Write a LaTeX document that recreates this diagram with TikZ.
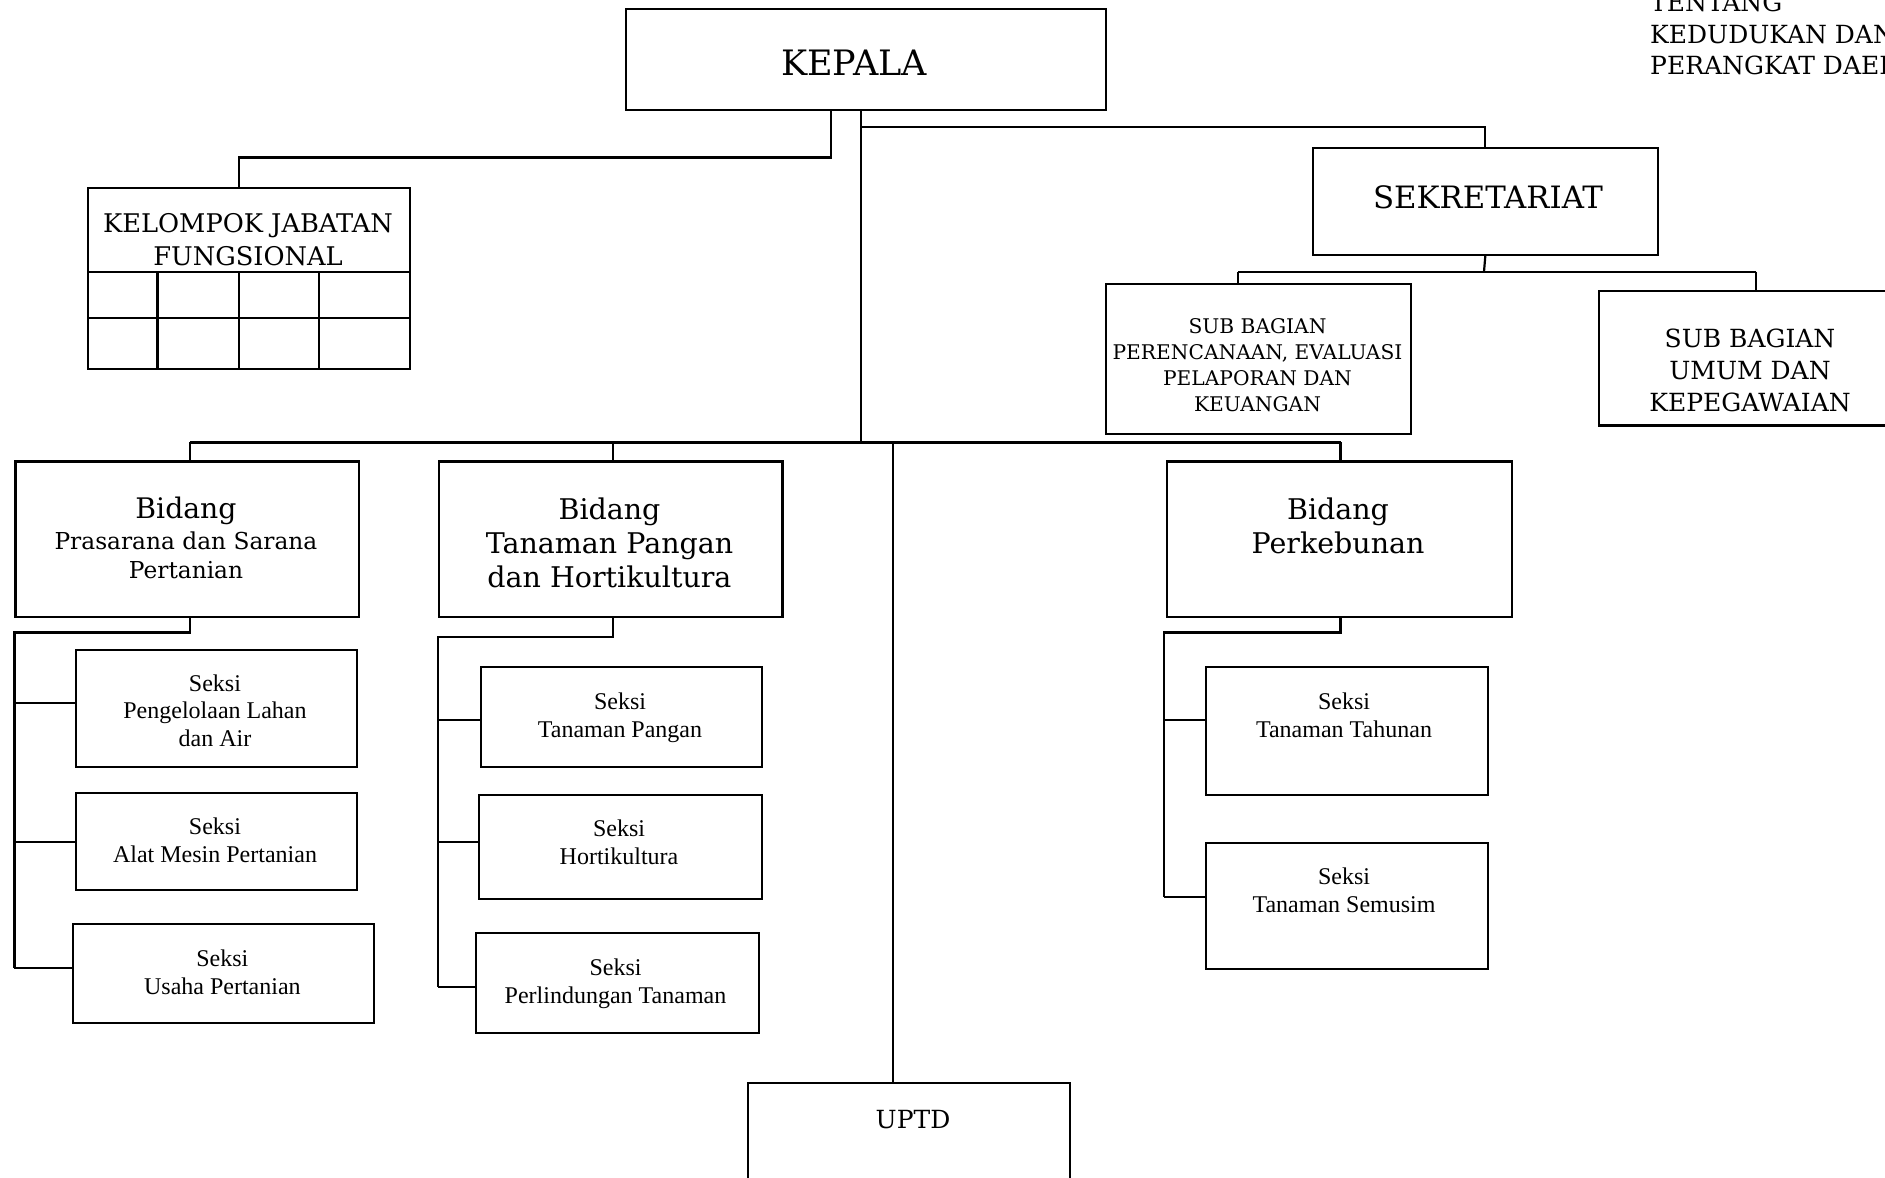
\documentclass[tikz,border=0pt]{standalone}
\usepackage{fontspec}
\setmainfont{DejaVu Serif}
\newfontfamily\seksifont{Liberation Serif}
\begin{document}
\begin{tikzpicture}[x=1pt,y=-1pt,
  box/.style={draw, line width=2.4pt, rectangle, inner sep=0pt, anchor=north west},
  link/.style={line width=2.2pt},
  lbl/.style={inner sep=0pt, align=center},
  seksi/.style={lbl, font=\seksifont\fontsize{24}{27.7}\selectfont},
  fs/.style={font=\fontsize{#1}{#1}\selectfont},
]
\path[fill=white, use as bounding box] (0,0) rectangle (1885,1178);
\clip (0,0) rectangle (1885,1178);

% ---------- header note ----------
\node[anchor=base west, inner sep=0pt, fs=25] (note1) at (1650,11) {TENTANG};
\node[anchor=base west, inner sep=0pt, fs=25] (note2) at (1650,43) {KEDUDUKAN DAN};
\node[anchor=base west, inner sep=0pt, fs=25] (note3) at (1650,74) {PERANGKAT DAERAH};

% ---------- boxes ----------
\node[box, minimum width=480, minimum height=101] (kepala) at (625,8) {};
\node[box, minimum width=322, minimum height=181] (kelompok) at (87,187) {};
\node[box, minimum width=345, minimum height=107] (sek) at (1311.6,146.7) {};
\node[box, minimum width=305.2, minimum height=150.3] (peren) at (1104.8,282.5) {};
\node[box, minimum width=320, minimum height=134.7] (umum) at (1597.7,289.7) {};

\node[box, minimum width=343.6, minimum height=155.1] (psp) at (14.4,460.4) {};
\node[box, minimum width=343.8, minimum height=155.1] (tph) at (437.6,460.4) {};
\node[box, minimum width=345, minimum height=155.1] (perk) at (1166,460.4) {};
\node[box, minimum width=322.2, minimum height=130] (uptd) at (746.6,1082) {};

\node[box, minimum width=281.5, minimum height=117] (s1) at (74.5,649) {};
\node[box, minimum width=281.5, minimum height=97] (s2) at (74.5,792) {};
\node[box, minimum width=300.5, minimum height=99] (s3) at (72,923) {};

\node[box, minimum width=281.3, minimum height=100] (t1) at (479.7,666) {};
\node[box, minimum width=283.5, minimum height=104] (t2) at (477.5,794) {};
\node[box, minimum width=282.7, minimum height=100] (t3) at (475,932) {};

\node[box, minimum width=282, minimum height=127.5] (p1) at (1204.5,666) {};
\node[box, minimum width=282, minimum height=126.5] (p2) at (1204.5,841.5) {};

% grid of the functional group table
\draw[link] (87,272) -- (409,272);
\draw[link] (87,318) -- (409,318);
\foreach \cx in {157.5,239,319} \draw[link] (\cx,272) -- (\cx,368);

% ---------- labels ----------
\node[lbl, fs=35] (kepalaT) at (854,63) {KEPALA};
\node[lbl, font=\fontsize{25.7}{33}\selectfont] (kelompokT) at (248,240) {KELOMPOK JABATAN\\FUNGSIONAL};
\node[lbl, fs=30.8] (sekT) at (1488,197) {SEKRETARIAT};
\node[lbl, font=\fontsize{20.2}{26}\selectfont] (perenT) at (1257.5,365) {SUB BAGIAN\\PERENCANAAN, EVALUASI\\PELAPORAN DAN\\KEUANGAN};
\node[lbl, font=\fontsize{25}{32}\selectfont] (umumT) at (1750,370) {SUB BAGIAN\\UMUM DAN\\KEPEGAWAIAN};

\node[lbl, font=\fontsize{28.3}{31}\selectfont] (pspT) at (186,538) {Bidang\\{\fontsize{23.3}{28}\selectfont Prasarana dan Sarana}\\[-2pt]{\fontsize{23.3}{28}\selectfont Pertanian}};
\node[lbl, font=\fontsize{28.5}{34.3}\selectfont] (tphT) at (609.5,543) {Bidang\\Tanaman Pangan\\dan Hortikultura};
\node[lbl, font=\fontsize{28.5}{34.3}\selectfont] (perkT) at (1338,526) {Bidang\\Perkebunan};
\node[lbl, fs=25] (uptdT) at (913,1120) {UPTD};

\node[seksi] (s1T) at (215,710.5) {Seksi\\Pengelolaan Lahan\\dan Air};
\node[seksi] (s2T) at (215,840) {Seksi\\Alat Mesin Pertanian};
\node[seksi] (s3T) at (222.4,972) {Seksi\\Usaha Pertanian};
\node[seksi] (t1T) at (620,717.5) {Seksi\\Tanaman Pangan};
\node[seksi] (t2T) at (619,842) {Seksi\\Hortikultura};
\node[seksi] (t3T) at (615.5,983.5) {Seksi\\Perlindungan Tanaman};
\node[seksi] (p1T) at (1344,715) {Seksi\\Tanaman Tahunan};
\node[seksi] (p2T) at (1344,890) {Seksi\\Tanaman Semusim};

% ---------- connectors ----------
% head to functional group
\coordinate (kfork) at (831,157.5);
\coordinate (kdrop) at (239,157.5);
\draw[link] (kepala.south -| kfork) -- (kfork) -- (kdrop) -- (kdrop |- kelompok.north);

% head to secretariat and main trunk
\coordinate (trunk) at (861,442.4);
\coordinate (sbar) at (861,127);
\draw[link] (kepala.south -| trunk) -- (trunk);
\draw[link] (sbar) -| (sek.north);

% secretariat to its sub-sections
\coordinate (sekbar) at (1484,271.7);
\coordinate (pdrop) at (1238,271.7);
\coordinate (udrop) at (1756,271.7);
\draw[link] (sek.south) -- (sekbar);
\draw[link] (pdrop) -- (udrop);
\draw[link] (pdrop) -- (pdrop |- peren.north);
\draw[link] (udrop) -- (udrop |- umum.north);

% main bar to the divisions and UPTD
\coordinate (bl) at (190,442.4);
\coordinate (bm) at (613,442.4);
\coordinate (br) at (1340.5,442.4);
\coordinate (ud) at (893,442.4);
\draw[link] (bl) -- (br);
\draw[link] (bl) -- (bl |- psp.north);
\draw[link] (bm) -- (bm |- tph.north);
\draw[link] (br) -- (br |- perk.north);
\draw[link] (ud) -- (ud |- uptd.north);

% Prasarana dan Sarana sections
\coordinate (psprail) at (14.4,632.4);
\coordinate (pa1) at (14.4,702.7);
\coordinate (pa2) at (14.4,842);
\coordinate (pa3) at (14.4,968);
\draw[link] (psp.south -| bl) |- (psprail) -- (pa3);
\draw[link] (pa1) -- (pa1 -| s1.west);
\draw[link] (pa2) -- (pa2 -| s2.west);
\draw[link] (pa3) -- (pa3 -| s3.west);

% Tanaman Pangan dan Hortikultura sections
\coordinate (tphrail) at (437.8,636.7);
\coordinate (ta1) at (437.8,720);
\coordinate (ta2) at (437.8,842);
\coordinate (ta3) at (437.8,987);
\draw[link] (tph.south -| bm) |- (tphrail) -- (ta3);
\draw[link] (ta1) -- (ta1 -| t1.west);
\draw[link] (ta2) -- (ta2 -| t2.west);
\draw[link] (ta3) -- (ta3 -| t3.west);

% Perkebunan sections
\coordinate (perkrail) at (1164,632.4);
\coordinate (pk1) at (1164,720);
\coordinate (pk2) at (1164,897);
\draw[link] (perk.south -| br) |- (perkrail) -- (pk2);
\draw[link] (pk1) -- (pk1 -| p1.west);
\draw[link] (pk2) -- (pk2 -| p2.west);
\end{tikzpicture}
\end{document}
